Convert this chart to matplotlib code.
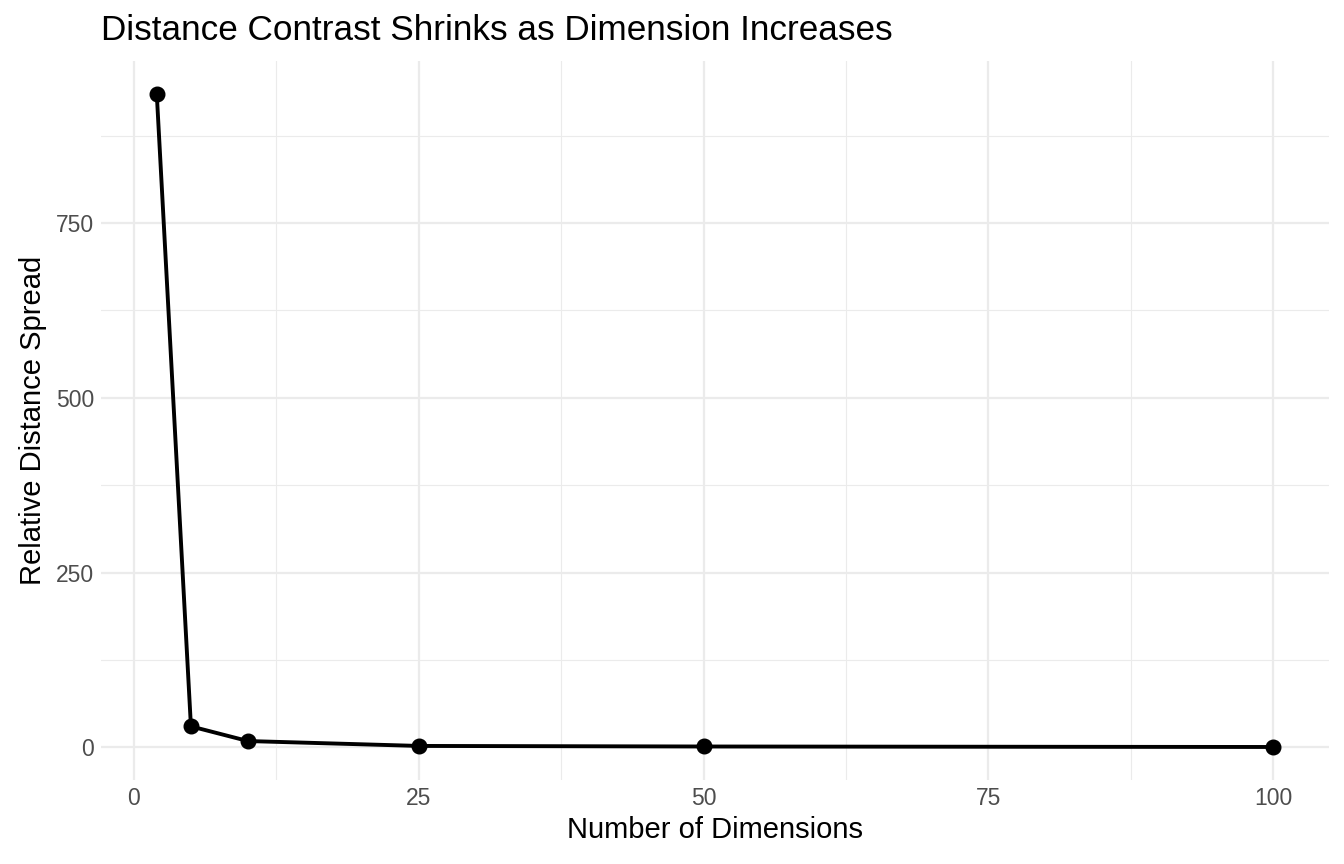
import numpy as np
import matplotlib.pyplot as plt

# Data
dims = [2, 5, 10, 25, 50, 100]
spread = [935, 30, 9, 2, 1.2, 0.5]

x_major = [0, 25, 50, 75, 100]
x_minor = [12.5, 37.5, 62.5, 87.5]
y_major = [0, 250, 500, 750]
y_minor = [125, 375, 625, 875]

plt.rcParams['font.family'] = ['Liberation Sans', 'DejaVu Sans']

fig = plt.figure(figsize=(13.44, 8.64), dpi=100)
ax = fig.add_axes([0.0751, 0.0972, 0.9137, 0.8322])

ax.plot(dims, spread, color='black', lw=2.8, zorder=3)
ax.plot(dims, spread, 'o', color='black', ms=10.5, zorder=4)

xr = max(dims) - min(dims)
ax.set_xlim(min(dims) - 0.05 * xr, max(dims) + 0.05 * xr)
yr = max(spread) - 0
ax.set_ylim(0 - 0.05 * yr, max(spread) + 0.05 * yr)

ax.set_xticks(x_major)
ax.set_xticks(x_minor, minor=True)
ax.set_yticks(y_major)
ax.set_yticks(y_minor, minor=True)

ax.grid(which='major', color='#EBEBEB', lw=1.6)
ax.grid(which='minor', color='#EBEBEB', lw=0.8)
ax.set_axisbelow(True)
for s in ax.spines.values():
    s.set_visible(False)
ax.tick_params(which='both', length=0)
ax.tick_params(axis='both', labelsize=16.5, labelcolor='#4D4D4D', pad=5)

ax.set_xlabel('Number of Dimensions', fontsize=21, labelpad=4)
ax.set_ylabel('Relative Distance Spread', fontsize=21, labelpad=6)
fig.text(0.0751, 0.965, 'Distance Contrast Shrinks as Dimension Increases',
         fontsize=25.3, ha='left', va='center')

fig.savefig('out.png', dpi=100)
